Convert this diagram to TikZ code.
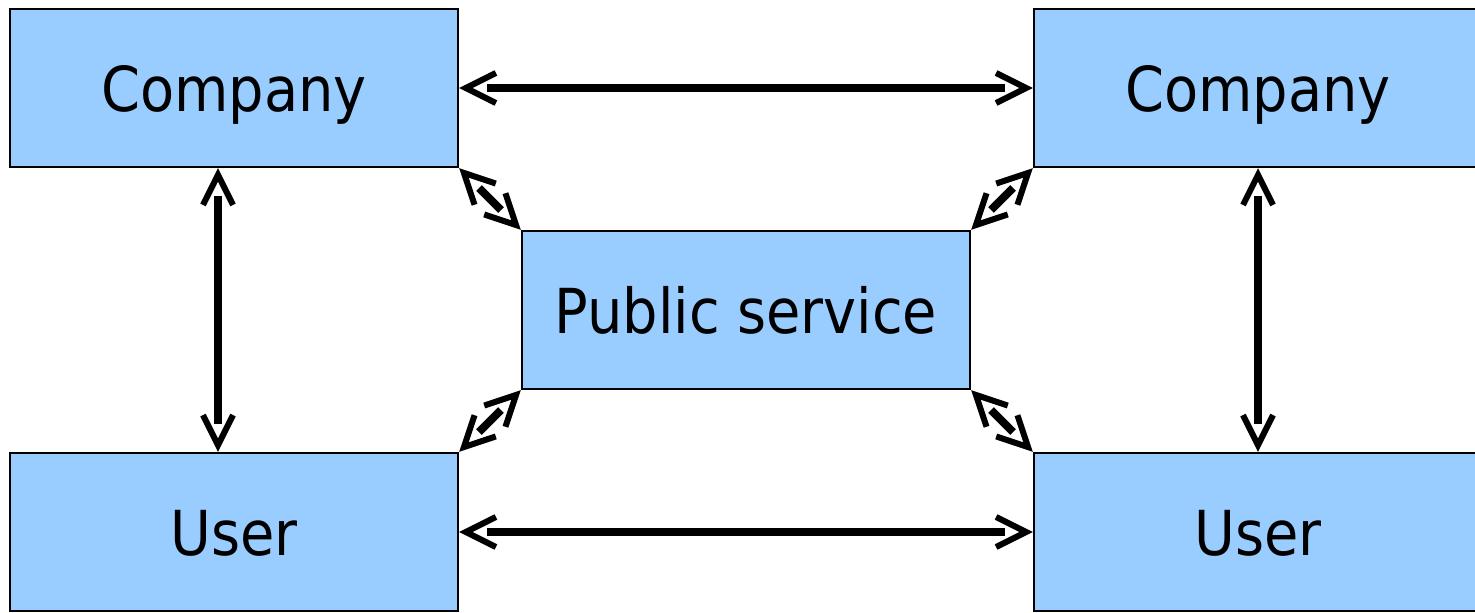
\documentclass[tikz,border=0pt]{standalone}
\usepackage{fontspec}
\setmainfont{DejaVu Sans Condensed}
\usetikzlibrary{arrows.meta}
\definecolor{boxblue}{HTML}{99CCFF}
\begin{document}
\begin{tikzpicture}[x=0.5pt,y=-0.5pt,
  box/.style={draw=black, line width=1pt, fill=boxblue, minimum width=224pt, minimum height=79pt,
    inner sep=0pt, outer sep=0.6pt, text height=23pt, text depth=0pt, font=\fontsize{31}{36}\selectfont},
  tips/.style={line width=3pt, dash pattern=on 0pt off 800pt,
    {Straight Barb[length=15pt,width=15pt]}-{Straight Barb[length=15pt,width=15pt]}},
  mid/.style={line width=4pt, shorten <=14pt, shorten >=14pt}]
\useasboundingbox (0,0) rectangle (1475,612);
\node[box] (tl) at (234,88) {Company};
\node[box] (tr) at (1258,88) {Company};
\node[box] (ps) at (746,310) {Public service};
\node[box] (bl) at (234,532) {User};
\node[box] (br) at (1258,532) {User};
% horizontal
\draw[tips] (tl.east) -- (tr.west);
\draw[mid]  (tl.east) -- (tr.west);
\draw[tips] (bl.east) -- (br.west);
\draw[mid]  (bl.east) -- (br.west);
% vertical
\draw[tips] ([xshift=-8pt]tl.south) -- ([xshift=-8pt]bl.north);
\draw[mid]  ([xshift=-8pt]tl.south) -- ([xshift=-8pt]bl.north);
\draw[tips] (tr.south) -- (br.north);
\draw[mid]  (tr.south) -- (br.north);
% diagonal
\draw[tips] (tl.south east) -- (ps.north west);
\draw[mid]  (tl.south east) -- (ps.north west);
\draw[tips] (tr.south west) -- (ps.north east);
\draw[mid]  (tr.south west) -- (ps.north east);
\draw[tips] (bl.north east) -- (ps.south west);
\draw[mid]  (bl.north east) -- (ps.south west);
\draw[tips] (br.north west) -- (ps.south east);
\draw[mid]  (br.north west) -- (ps.south east);
\end{tikzpicture}
\end{document}
